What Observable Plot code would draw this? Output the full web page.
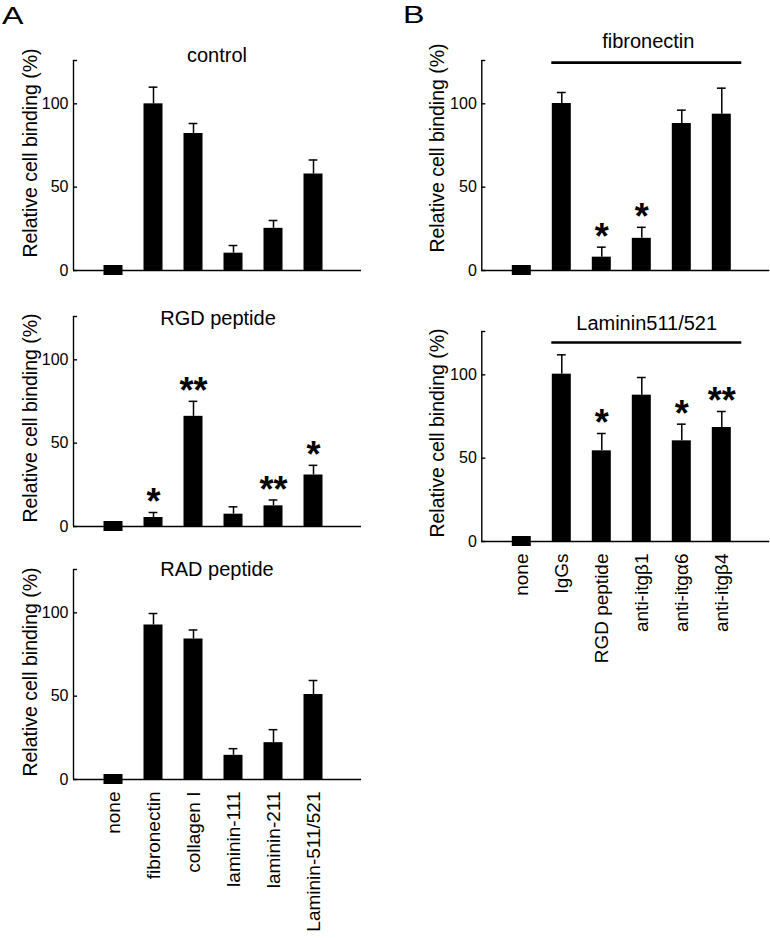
<!DOCTYPE html>
<html><head><meta charset="utf-8">
<script src="https://cdn.jsdelivr.net/npm/d3@7"></script>
<script src="https://cdn.jsdelivr.net/npm/@observablehq/plot@0.6"></script>
<style>
body{margin:0;background:#fff;}
#root{position:relative;width:770px;height:938px;overflow:hidden;font-family:"Liberation Sans",Arial,sans-serif;color:#000;background:#fff;}
.abs{position:absolute;white-space:nowrap;line-height:1;}
.plotbox{position:absolute;}
</style></head><body><div id="root"></div>
<script>
// ---------- data ----------
const substrates = ["none", "fibronectin", "collagen I", "laminin-111", "laminin-211", "Laminin-511/521"];
const controlValues = [0, 100, 82.2, 10.4, 25.3, 57.9];
const controlErrors = [0, 10, 6, 4.6, 4.7, 8.4];
const controlStars  = ["", "", "", "", "", ""];
const rgdValues = [0, 5.4, 66.1, 7.4, 12.4, 30.9];
const rgdErrors = [0, 3, 9, 4.4, 3.5, 5.8];
const rgdStars  = ["", "*", "**", "", "**", "*"];
const radValues = [0, 92.7, 84.3, 14.5, 22.1, 51];
const radErrors = [0, 6.9, 5.4, 4, 7.8, 8.4];
const radStars  = ["", "", "", "", "", ""];

const treatments = ["none", "IgGs", "RGD peptide", "anti-itg\u03b21", "anti-itg\u03b16", "anti-itg\u03b24"];
const fnValues = [0, 100.2, 8, 19.3, 88.2, 93.8];
const fnErrors = [0, 6.6, 6, 6.6, 8, 15.6];
const fnStars  = ["", "", "*", "*", "", ""];
const lmValues = [0, 100.4, 54.4, 87.8, 60.4, 68.4];
const lmErrors = [0, 11.6, 10.4, 10.6, 10, 9.6];
const lmStars  = ["", "", "*", "", "*", "**"];

const yTicks = [0, 50, 100];
const yMax = 126;
const fnBracket = {from: 1, to: 5, level: 124.7};
const lmBracket = {from: 1, to: 5, level: 119.4};

// ---------- drawing ----------
const root = document.getElementById("root");
const FONT = '"Liberation Sans", Arial, sans-serif';
const FRAME_H = 210;
const X_LABEL_SIZE = 19;
const Y_TICK_SIZE = 16;

function addText(txt, {x, baseline, size, anchor = "middle", weight = "normal", scaleX = 1}) {
  const d = document.createElement("div");
  d.className = "abs";
  d.textContent = txt;
  d.style.fontSize = size + "px";
  d.style.fontWeight = weight;
  d.style.top = (baseline - 0.8465 * size) + "px";
  d.style.left = x + "px";
  let t = "";
  if (anchor === "middle") t += "translateX(-50%) ";
  if (scaleX !== 1) { t += `scaleX(${scaleX})`; d.style.transformOrigin = "left top"; }
  d.style.transform = t;
  root.appendChild(d);
}
function addYLabel(txt, cx, cy, size) {
  const d = document.createElement("div");
  d.className = "abs";
  d.textContent = txt;
  d.style.fontSize = size + "px";
  d.style.left = cx + "px";
  d.style.top = cy + "px";
  d.style.transform = "translate(-50%,-50%) rotate(-90deg)";
  root.appendChild(d);
}

function panel({cats, values, errors, stars, bracket, showX, left, top, marginLeft, marginBottom}) {
  const rows = cats.map((c, i) => ({i, c, v: values[i], e: errors[i], s: stars[i]}));
  const width = 370;
  const marks = [
    Plot.rect(rows, {
      x1: d => d.i - 0.2375, x2: d => d.i + 0.2375,
      y1: d => d.v === 0 ? -3 : 0, y2: d => d.v === 0 ? 3 : d.v,
      fill: "black"
    }),
    Plot.ruleX(rows.filter(d => d.e > 0), {x: "i", y1: "v", y2: d => d.v + d.e, stroke: "black", strokeWidth: 1.5}),
    Plot.ruleY(rows.filter(d => d.e > 0), {y: d => d.v + d.e, x1: d => d.i - 0.11, x2: d => d.i + 0.11, stroke: "black", strokeWidth: 1.5}),
    Plot.ruleY([0], {stroke: "black", strokeWidth: 1.4}),
    Plot.ruleX([-1], {y1: 0, y2: yMax, stroke: "black", strokeWidth: 1.4}),
    Plot.ruleY([...yTicks, yMax], {x1: -1, x2: -0.9, stroke: "black", strokeWidth: 1.4}),
    Plot.axisY({ticks: yTicks, tickSize: 0, tickPadding: 5, label: null, fontSize: Y_TICK_SIZE}),
    Plot.text(rows.filter(d => d.s), {x: "i", y: d => d.v + d.e, text: "s", fontSize: 36, fontWeight: "bold", lineAnchor: "middle", dy: -10, fill: "black"})
  ];
  if (bracket) {
    marks.push(Plot.ruleY([bracket], {y: "level", x1: d => d.from - 0.25, x2: d => d.to + 0.5, stroke: "black", strokeWidth: 2.6}));
  }
  if (showX) {
    marks.push(Plot.axisX({ticks: d3.range(cats.length), tickFormat: i => cats[i], tickRotate: -90, tickSize: 0, tickPadding: 12, label: null, fontSize: X_LABEL_SIZE}));
  }
  const svg = Plot.plot({
    width,
    height: 10 + FRAME_H + marginBottom,
    marginTop: 10,
    marginBottom,
    marginLeft,
    marginRight: width - marginLeft - 288,
    x: {domain: [-1, 6.2], axis: showX ? undefined : null},
    y: {domain: [0, yMax]},
    style: {fontFamily: FONT, fontSize: Y_TICK_SIZE + "px", color: "black", background: "transparent", overflow: "visible"},
    marks
  });
  d3.select(svg).selectAll("text").each(function() {
    const tr = (this.getAttribute("transform") || "") + " " + (this.parentNode.getAttribute("transform") || "");
    const label = this.parentNode.getAttribute("aria-label") || "";
    if (/rotate/.test(tr) || /x-axis/.test(label)) this.style.fontSize = X_LABEL_SIZE + "px";
    else if (/y-axis/.test(label)) this.style.fontSize = Y_TICK_SIZE + "px";
  });
  const box = document.createElement("div");
  box.className = "plotbox";
  box.style.left = left + "px";
  box.style.top = top + "px";
  box.appendChild(svg);
  root.appendChild(box);
}

// Panel A
panel({cats: substrates, values: controlValues, errors: controlErrors, stars: controlStars, showX: false, left: 0, top: 49.6, marginLeft: 73, marginBottom: 12});
panel({cats: substrates, values: rgdValues, errors: rgdErrors, stars: rgdStars, showX: false, left: 0, top: 305.7, marginLeft: 73, marginBottom: 12});
panel({cats: substrates, values: radValues, errors: radErrors, stars: radStars, showX: true, left: 0, top: 559.3, marginLeft: 73, marginBottom: 165});
// Panel B
panel({cats: treatments, values: fnValues, errors: fnErrors, stars: fnStars, bracket: fnBracket, showX: false, left: 400, top: 50, marginLeft: 81.3, marginBottom: 12});
panel({cats: treatments, values: lmValues, errors: lmErrors, stars: lmStars, bracket: lmBracket, showX: true, left: 400, top: 320.7, marginLeft: 81.3, marginBottom: 160});

// titles
addText("control", {x: 217, baseline: 62.3, size: 20});
addText("RGD peptide", {x: 218, baseline: 325, size: 20});
addText("RAD peptide", {x: 217, baseline: 576, size: 20});
addText("fibronectin", {x: 648.3, baseline: 48.3, size: 20});
addText("Laminin511/521", {x: 646.7, baseline: 330, size: 20});
// panel letters
addText("A", {x: 1.5, baseline: 24, size: 23, anchor: "start", scaleX: 1.4});
addText("B", {x: 402.5, baseline: 23.3, size: 23, anchor: "start", scaleX: 1.4});
// y labels
const yLabel = "Relative cell binding (%)";
addYLabel(yLabel, 30.8, 153.3, 19.5);
addYLabel(yLabel, 30.8, 417.5, 19.5);
addYLabel(yLabel, 30.8, 671.7, 19.5);
addYLabel(yLabel, 437.5, 148.3, 19.5);
addYLabel(yLabel, 437.5, 433.3, 19.5);
</script></body></html>
